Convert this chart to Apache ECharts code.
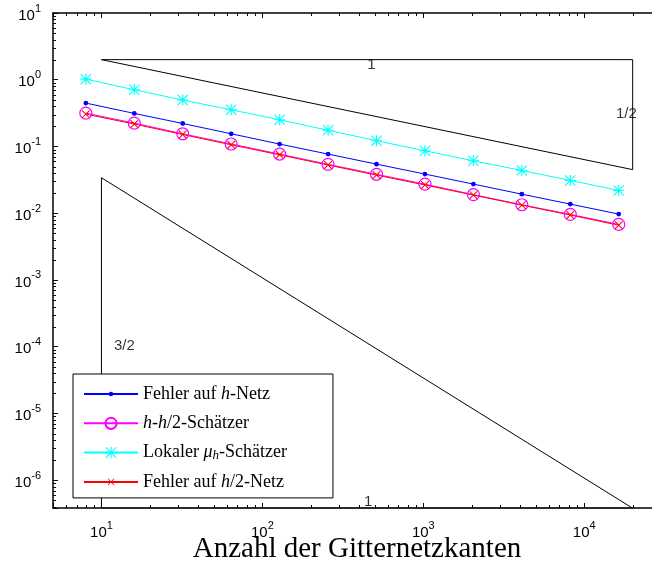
<!DOCTYPE html>
<html>
<head>
<meta charset="utf-8">
<script src="https://cdn.jsdelivr.net/npm/echarts@6/dist/echarts.min.js"></script>
<style>
  html, body { margin: 0; padding: 0; background: #fff; }
  #chart { width: 652px; height: 569px; }
</style>
</head>
<body>
<div id="chart"></div>
<script>
// Anzahl der Gitternetzkanten (x)
const edges = [8, 16, 32, 64, 128, 256, 512, 1024, 2048, 4096, 8192, 16384];
// Fehler / Schaetzer (y)
const errH = [0.447, 0.313, 0.221, 0.155, 0.1086, 0.0769, 0.0544, 0.0386, 0.0273, 0.0193, 0.0137, 0.0097];
const estHH2 = [0.316, 0.224, 0.155, 0.109, 0.077, 0.054, 0.0383, 0.0273, 0.019, 0.0134, 0.0096, 0.0068];
const estLocal = [1.02, 0.708, 0.496, 0.355, 0.251, 0.175, 0.122, 0.0862, 0.061, 0.0437, 0.031, 0.0219];
const errH2 = [0.305, 0.217, 0.151, 0.106, 0.075, 0.0527, 0.0373, 0.0265, 0.0187, 0.0132, 0.0094, 0.0066];

// Steigungsdreiecke
const slopeHalf = [[10, 2], [20000, 2], [20000, 0.045], [10, 2]];
const slopeThreeHalves = [[10, 0.034], [10, 3.8e-7], [20000, 3.8e-7], [10, 0.034]];
const slopeLabels = [
  { text: '1', x: 476, y: 1.65 },
  { text: '1/2', x: 18270, y: 0.309 },
  { text: '3/2', x: 13.9, y: 1.04e-4 },
  { text: '1', x: 454, y: 4.71e-7 }
];

const xMin = 5, xMax = 30000;
const yMin = 3.83e-7, yMax = 10;

const names = ['Fehler auf h-Netz', 'h-h/2-Schätzer', 'Lokaler μh-Schätzer', 'Fehler auf h/2-Netz'];
const richNames = {
  'Fehler auf h-Netz': 'Fehler auf {i|h}-Netz',
  'h-h/2-Schätzer': '{i|h}-{i|h}/2-Schätzer',
  'Lokaler μh-Schätzer': 'Lokaler {i|μ}{sub|h}-Schätzer',
  'Fehler auf h/2-Netz': 'Fehler auf {i|h}/2-Netz'
};

// minor ticks 2..9 * 10^k inside the range
function minorTicks(lo, hi) {
  let out = [];
  for (let k = -8; k <= 5; k++) {
    for (let m = 2; m <= 9; m++) {
      let v = m * Math.pow(10, k);
      if (v > lo && v < hi) out.push(v);
    }
  }
  return out;
}
const xMinor = minorTicks(xMin, xMax);
const yMinor = minorTicks(yMin, yMax);

// marker shapes (corner moveTo's keep the legend icon small)
const dot = 'path://M0 0 M20 20 M6 10 A4 4 0 1 1 14 10 A4 4 0 1 1 6 10 Z';
const asterisk = 'path://M9 0 L11 0 L11 20 L9 20 Z M0 9 L20 9 L20 11 L0 11 Z M1.4 0 L20 18.6 L18.6 20 L0 1.4 Z M18.6 0 L20 1.4 L1.4 20 L0 18.6 Z';
const cross = 'path://M0 0 M20 20 M4 5 L5 4 L16 15 L15 16 Z M15 4 L16 5 L5 16 L4 15 Z';

function pairs(ys) {
  return edges.map((x, i) => [x, ys[i]]);
}

function powLabel(v) {
  let e = Math.log10(v);
  let r = Math.round(e);
  if (Math.abs(e - r) > 1e-6) return '';
  return '{b|10}{s|' + r + '}';
}
const powRich = {
  b: { fontSize: 15, fontFamily: 'Liberation Sans', color: '#000', lineHeight: 20, verticalAlign: 'bottom' },
  s: { fontSize: 11, fontFamily: 'Liberation Sans', color: '#000', lineHeight: 10, verticalAlign: 'top' }
};

const axisLine = { show: true, lineStyle: { color: '#000', width: 1.5 } };

let chart = echarts.init(document.getElementById('chart'), null, { renderer: 'canvas' });

const option = {
  animation: false,
  backgroundColor: '#fff',
  grid: { left: 53, top: 13, right: -9, bottom: 61, outerBoundsMode: 'none' },
  xAxis: [
    {
      type: 'log', min: xMin, max: xMax, position: 'bottom',
      axisLine: axisLine,
      axisTick: { show: true, inside: true, length: 5, lineStyle: { color: '#000' } },
      axisLabel: { formatter: powLabel, rich: powRich, margin: 12 },
      splitLine: { show: false },
      name: 'Anzahl der Gitternetzkanten',
      nameLocation: 'middle',
      nameGap: 25,
      nameMoveOverlap: false,
      nameTextStyle: { fontFamily: 'Liberation Serif', fontSize: 29, color: '#000', lineHeight: 32 }
    },
    {
      type: 'log', min: xMin, max: xMax, position: 'top',
      axisLine: axisLine,
      axisTick: { show: true, inside: true, length: 5, lineStyle: { color: '#000' } },
      axisLabel: { show: false },
      splitLine: { show: false }
    }
  ],
  yAxis: {
    type: 'log', min: yMin, max: yMax,
    axisLine: axisLine,
    axisTick: { show: true, inside: true, length: 5, lineStyle: { color: '#000' } },
    axisLabel: { formatter: powLabel, rich: powRich, margin: 12 },
    splitLine: { show: false }
  },
  legend: {
    data: names,
    orient: 'vertical',
    left: 73,
    top: 374,
    padding: [11, 46, 7, 10],
    itemGap: 11.3,
    itemWidth: 54,
    itemHeight: 14,
    backgroundColor: '#fff',
    borderColor: '#000',
    borderWidth: 1,
    borderRadius: 0,
    formatter: function (name) { return richNames[name]; },
    textStyle: {
      fontFamily: 'Liberation Serif', fontSize: 18, color: '#000', lineHeight: 18,
      rich: {
        i: { fontFamily: 'Liberation Serif', fontStyle: 'italic', fontSize: 18, color: '#000', lineHeight: 18 },
        sub: { fontFamily: 'Liberation Serif', fontStyle: 'italic', fontSize: 13, color: '#000', lineHeight: 12, verticalAlign: 'bottom' }
      }
    }
  },
  series: [
    {
      name: names[0], type: 'line', data: pairs(errH),
      symbol: dot, symbolSize: 12,
      itemStyle: { color: '#0000ff' },
      lineStyle: { color: '#0000ff', width: 1 }
    },
    {
      name: names[1], type: 'line', data: pairs(estHH2),
      symbol: 'circle', symbolSize: 12,
      itemStyle: { color: 'rgba(0,0,0,0)', borderColor: '#ff00ff', borderWidth: 1.2 },
      lineStyle: { color: '#ff00ff', width: 1 }
    },
    {
      name: names[2], type: 'line', data: pairs(estLocal),
      symbol: asterisk, symbolSize: 11,
      itemStyle: { color: '#00ffff' },
      lineStyle: { color: '#00ffff', width: 1 }
    },
    {
      name: names[3], type: 'line', data: pairs(errH2),
      symbol: cross, symbolSize: 14,
      itemStyle: { color: '#ff0000' },
      lineStyle: { color: '#ff0000', width: 1 }
    },
    {
      name: 'slopeHalf', type: 'line', data: slopeHalf, symbol: 'none', silent: true,
      lineStyle: { color: '#000', width: 1 }
    },
    {
      name: 'slopeThreeHalves', type: 'line', data: slopeThreeHalves, symbol: 'none', silent: true,
      lineStyle: { color: '#000', width: 1 }
    },
    {
      name: 'slopeLabels', type: 'scatter', silent: true,
      data: slopeLabels.map(d => ({ value: [d.x, d.y], label: { formatter: d.text } })),
      symbolSize: 1,
      itemStyle: { color: 'rgba(0,0,0,0)' },
      label: { show: true, position: 'inside', fontFamily: 'Liberation Sans', fontSize: 15, color: '#000' }
    },
    {
      name: 'xMinor', type: 'custom', silent: true, clip: false,
      data: xMinor.map(v => [v, 1]),
      renderItem: function (params, api) {
        let x = Math.round(api.coord([api.value(0), 1])[0]) + 0.5;
        let cs = params.coordSys;
        let yb = cs.y + cs.height, yt = cs.y;
        return {
          type: 'group',
          children: [
            { type: 'line', shape: { x1: x, y1: yb, x2: x, y2: yb - 3 }, style: { stroke: '#000', lineWidth: 1 } },
            { type: 'line', shape: { x1: x, y1: yt, x2: x, y2: yt + 3 }, style: { stroke: '#000', lineWidth: 1 } }
          ]
        };
      }
    },
    {
      name: 'yMinor', type: 'custom', silent: true, clip: false,
      data: yMinor.map(v => [10, v]),
      renderItem: function (params, api) {
        let y = Math.round(api.coord([10, api.value(1)])[1]) + 0.5;
        let cs = params.coordSys;
        return {
          type: 'line',
          shape: { x1: cs.x, y1: y, x2: cs.x + 3, y2: y },
          style: { stroke: '#000', lineWidth: 1 }
        };
      }
    }
  ]
};

chart.setOption(option);
</script>
</body>
</html>
